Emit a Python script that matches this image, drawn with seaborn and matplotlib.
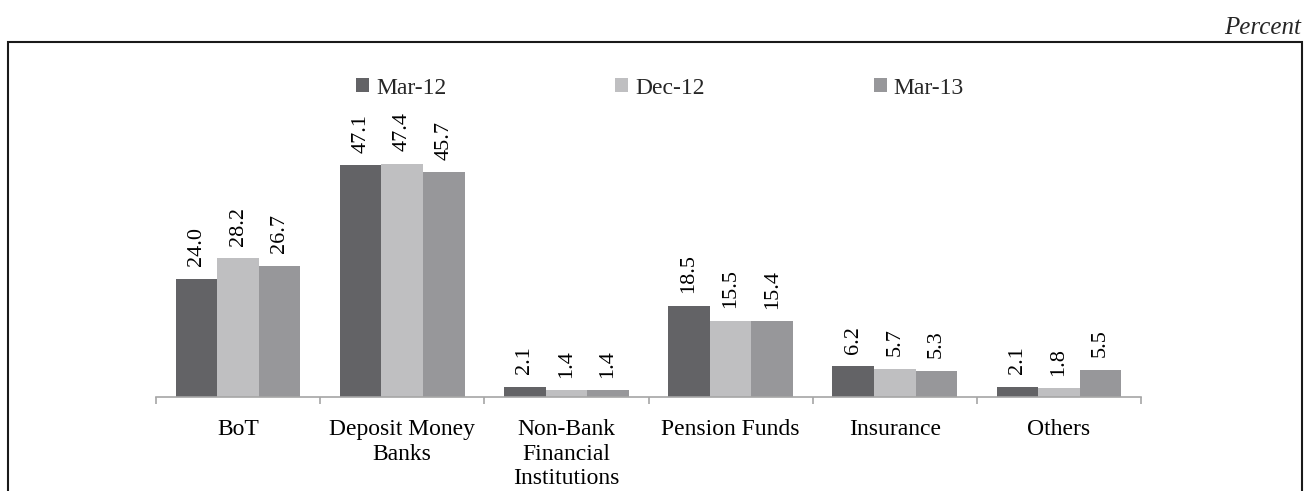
import matplotlib
matplotlib.use("Agg")
import matplotlib.pyplot as plt
import seaborn as sns
import pandas as pd
from matplotlib.patches import Rectangle

# chart data
categories = ["BoT", "Deposit Money\nBanks", "Non-Bank\nFinancial\nInstitutions",
              "Pension Funds", "Insurance", "Others"]
periods = ["Mar-12", "Dec-12", "Mar-13"]
mar12 = [24.0, 47.1, 2.1, 18.5, 6.2, 2.1]
dec12 = [28.2, 47.4, 1.4, 15.5, 5.7, 1.8]
mar13 = [26.7, 45.7, 1.4, 15.4, 5.3, 5.5]
colors = ["#636366", "#bfbfc1", "#97979a"]

rows = []
for period, vals in zip(periods, [mar12, dec12, mar13]):
    for cat, v in zip(categories, vals):
        rows.append({"category": cat, "period": period, "value": v})
df = pd.DataFrame(rows)

sns.set_theme(style="white")
plt.rcParams["font.family"] = ["Liberation Serif", "DejaVu Serif"]

W, H = 1307, 491
fig = plt.figure(figsize=(W / 100, H / 100), dpi=100)
# axes placed in pixel terms: x 156..1141, y (from top) 60..397
ax = fig.add_axes([156 / W, 1 - 397 / H, (1141 - 156) / W, (397 - 60) / H])

sns.barplot(data=df, x="category", y="value", hue="period", order=categories,
            hue_order=periods, palette=colors, width=0.76, linewidth=0,
            saturation=1, ax=ax)

ax.set_ylim(0, 337 / 4.92)
ax.set_xlim(-0.5, len(categories) - 0.5)

# value labels
for container in ax.containers:
    ax.bar_label(container, fmt="%.1f", rotation=90, padding=9, fontsize=16,
                 color="#000000")

# axes styling
for side in ["top", "right", "left"]:
    ax.spines[side].set_visible(False)
ax.spines["bottom"].set_color("#a6a6a6")
ax.spines["bottom"].set_linewidth(1.2)
ax.set_yticks([])
ax.set_xlabel("")
ax.set_ylabel("")
ax.set_xticks(range(len(categories)))
ax.set_xticklabels(categories, fontsize=17, linespacing=1.22)
ax.set_xticks([i - 0.5 for i in range(len(categories) + 1)], minor=True)
ax.tick_params(axis="x", which="both", bottom=True)
ax.tick_params(axis="x", which="major", length=0, pad=16, labelcolor="#000000")
ax.tick_params(axis="x", which="minor", length=5, width=1.2, color="#a6a6a6",
               direction="out")

# legend
ax.legend(loc="center", bbox_to_anchor=(660 / W, 1 - 88 / H),
          bbox_transform=fig.transFigure, ncol=3, frameon=False,
          fontsize=17, handlelength=0.55, handleheight=0.55, handletextpad=0.3,
          columnspacing=7.15)

# outer frame (bottom edge runs off the image)
fig.patches.append(Rectangle((8 / W, -0.05), (1302 - 8) / W, 1.05 - 42 / H,
                             transform=fig.transFigure, fill=False,
                             edgecolor="#1a1a1a", linewidth=1.5))
fig.text(1301 / W, 1 - 34 / H, "Percent", ha="right", va="baseline",
         fontsize=18, style="italic")

fig.savefig("out.png", dpi=100)
